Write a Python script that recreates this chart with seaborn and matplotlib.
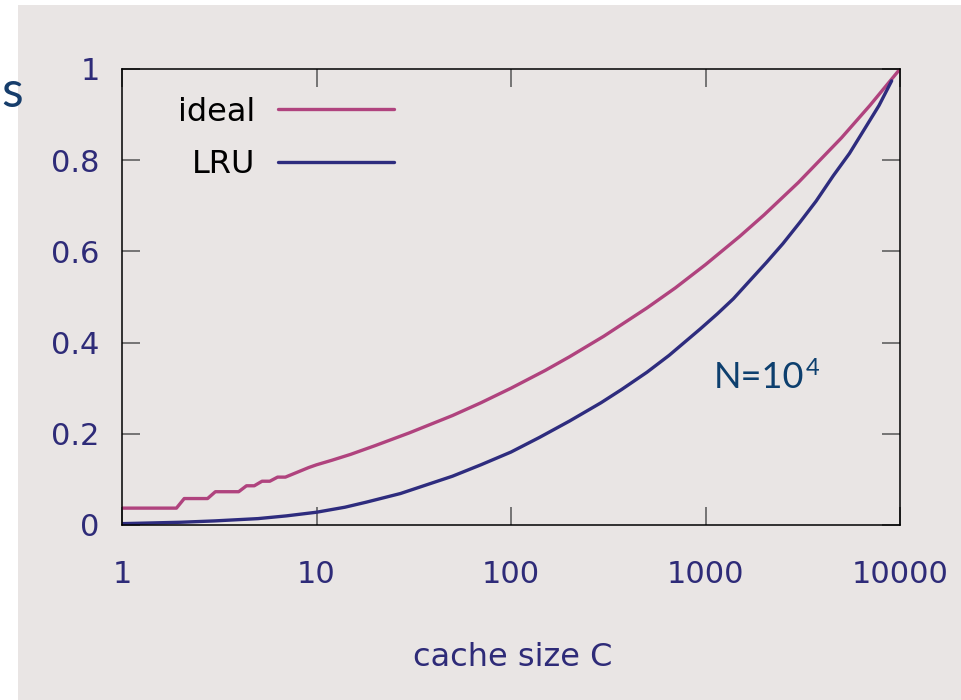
import matplotlib
matplotlib.use("Agg")
import matplotlib.pyplot as plt
import matplotlib.patches as mpatches
import matplotlib.ticker as mticker
import seaborn as sns
import pandas as pd

# ---- data ----
ideal_C = [1, 1.905, 2.089, 2.754, 3.020, 3.981, 4.365, 4.786, 5.248, 5.754, 6.310,
           6.918, 7.586, 8.318, 9.120, 10, 12, 15, 20, 30, 50, 70, 100, 150, 200,
           300, 500, 700, 1000, 1500, 2000, 3000, 5000, 7000, 10000]
ideal_hit = [0.037, 0.037, 0.058, 0.058, 0.073, 0.073, 0.086, 0.086, 0.096, 0.096, 0.105,
             0.105, 0.112, 0.119, 0.126, 0.132, 0.142, 0.155, 0.174, 0.202, 0.240, 0.268, 0.300,
             0.339, 0.369, 0.414, 0.476, 0.520, 0.571, 0.633, 0.680, 0.751, 0.849, 0.920, 1.0]
lru_C = [1, 2, 3, 5, 7, 10, 14, 18, 27, 35, 50, 70, 100, 140, 200, 290, 370, 500, 650,
         940, 1150, 1390, 1700, 2060, 2500, 3060, 3700, 4540, 5500, 6740, 7800, 9060]
lru_hit = [0.003, 0.006, 0.009, 0.014, 0.020, 0.028, 0.039, 0.050, 0.069, 0.085, 0.107,
           0.132, 0.160, 0.192, 0.228, 0.268, 0.297, 0.335, 0.372, 0.430, 0.463, 0.496,
           0.537, 0.576, 0.617, 0.664, 0.710, 0.766, 0.815, 0.876, 0.920, 0.974]

x_ticks = [1, 10, 100, 1000, 10000]
x_tick_labels = ["1", "10", "100", "1000", "10000"]
y_ticks = [0, 0.2, 0.4, 0.6, 0.8, 1.0]
y_tick_labels = ["0", "0.2", "0.4", "0.6", "0.8", "1"]
series_names = ["ideal", "LRU"]
x_label = "cache size C"
annot_base = "N=10"
annot_exp = "4"

BG = "#e9e5e4"
IDEAL_COL = "#b0437e"
LRU_COL = "#2e2c7e"
TICKLBL_COL = "#2e2b78"
ANNOT_COL = "#0d3f6e"

sns.set_theme(style="white")
plt.rcParams["font.family"] = ["DejaVu Sans"]

W, H = 961, 700
fig = plt.figure(figsize=(W / 100, H / 100), dpi=100, facecolor="white")
bg = mpatches.Rectangle((18 / W, 0), 1 - 18 / W, 1 - 5 / H,
                        transform=fig.transFigure, facecolor=BG,
                        edgecolor="none", zorder=-10)
fig.patches.append(bg)

ax = fig.add_axes([122 / W, 1 - 525 / H, (900 - 122) / W, (525 - 69) / H])
ax.set_facecolor(BG)

df_ideal = pd.DataFrame({"C": ideal_C, "hit": ideal_hit})
df_lru = pd.DataFrame({"C": lru_C, "hit": lru_hit})
sns.lineplot(data=df_ideal, x="C", y="hit", ax=ax, color=IDEAL_COL, linewidth=2.4,
             label=series_names[0], estimator=None, sort=False)
sns.lineplot(data=df_lru, x="C", y="hit", ax=ax, color=LRU_COL, linewidth=2.4,
             label=series_names[1], estimator=None, sort=False)

ax.set_xscale("log")
ax.set_xlim(1, 10000)
ax.set_ylim(0, 1)
ax.xaxis.set_minor_locator(mticker.NullLocator())
ax.set_xticks(x_ticks)
ax.set_xticklabels(x_tick_labels)
ax.set_yticks(y_ticks)
ax.set_yticklabels(y_tick_labels)

ax.tick_params(axis="both", which="major", direction="in", length=13, width=1.1,
               color="#555555", top=True, right=True, bottom=True, left=True,
               labelsize=22, labelcolor=TICKLBL_COL)
ax.tick_params(axis="x", pad=25)
ax.tick_params(axis="y", pad=16)

for s in ax.spines.values():
    s.set_visible(True)
    s.set_color("black")
    s.set_linewidth(1.1)

ax.set_xlabel("")
ax.set_ylabel("")
fig.text(513 / W, 1 - 658 / H, x_label, ha="center", va="center", fontsize=23,
         color=TICKLBL_COL)

leg = ax.legend(loc="center right", bbox_to_anchor=(394 / W, 1 - 138.5 / H),
                bbox_transform=fig.transFigure, markerfirst=False, frameon=False,
                fontsize=23, handlelength=3.64, handletextpad=0.69, labelspacing=0.68,
                borderpad=0, borderaxespad=0)
for t in leg.get_texts():
    t.set_color("black")

fig.text(804 / W, 1 - 388 / H, annot_base, ha="right", va="baseline", fontsize=26,
         color=ANNOT_COL, family="Lato")
fig.text(806 / W, 1 - 375 / H, annot_exp, ha="left", va="baseline", fontsize=17,
         color=ANNOT_COL, family="Lato")

fig.text(1 / W, 1 - 107 / H, "s", ha="left", va="baseline", fontsize=36,
         color="#163d6b", family="Lato")

fig.savefig("out.png", dpi=100, facecolor="white")
